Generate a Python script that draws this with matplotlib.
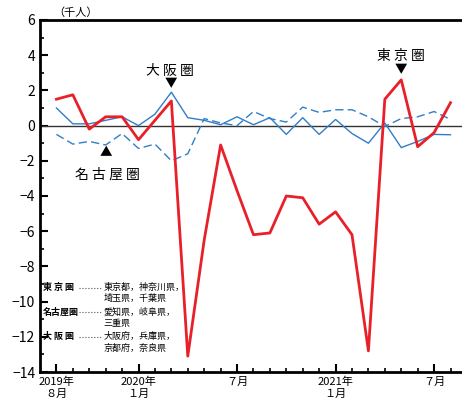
import matplotlib.pyplot as plt
import numpy as np

plt.rcParams['font.family'] = ['Noto Sans CJK JP', 'DejaVu Sans']

# 2019年8月〜2021年8月
tokyo = [1.5, 1.75, -0.2, 0.5, 0.5, -0.8, 0.3, 1.4, -13.1, -6.5, -1.1, -3.7, -6.2,
         -6.1, -4.0, -4.1, -5.6, -4.9, -6.2, -12.8, 1.5, 2.6, -1.2, -0.4, 1.3]
osaka = [1.0, 0.1, 0.1, 0.3, 0.5, 0.0, 0.65, 1.9, 0.45, 0.3, 0.05, 0.5, 0.05,
         0.45, -0.5, 0.45, -0.5, 0.35, -0.45, -1.0, 0.15, -1.25, -0.9, -0.5, -0.52]
nagoya = [-0.5, -1.05, -0.9, -1.1, -0.45, -1.3, -1.05, -2.0, -1.6, 0.4, 0.15, 0.0, 0.8,
          0.4, 0.2, 1.05, 0.75, 0.9, 0.9, 0.5, -0.05, 0.4, 0.5, 0.8, 0.35]
x = np.arange(len(tokyo))

fig = plt.figure(figsize=(4.62, 4.08), dpi=100)
ax = fig.add_axes([40/462, 36/408, 422/462, 352/408])

ax.axhline(0, color='#333333', lw=1.0)
ax.plot(x, nagoya, '--', color='#2f7fc8', lw=1.0, dashes=(6, 3))
ax.plot(x, osaka, '-', color='#2f7fc8', lw=1.0)
ax.plot(x, tokyo, '-', color='#e8202a', lw=2.0)

ax.set_xlim(-1, 24.7)
ax.set_ylim(-14, 6)
ax.set_yticks(np.arange(-14, 7, 2))
ax.set_yticklabels([str(v).replace('-', '−') for v in range(-14, 7, 2)], fontsize=10)
ax.set_yticks(np.arange(-14, 7, 1), minor=True)
ax.set_xticks([0, 5, 11, 17, 23])
ax.set_xticklabels(['2019年\n８月', '2020年\n１月', '７月', '2021年\n１月', '７月'], fontsize=8)
ax.set_xticks(x, minor=True)
ax.tick_params(axis='both', which='major', direction='in', length=6, width=1.5)
ax.tick_params(axis='both', which='minor', direction='in', length=3, width=1.2)
for s in ['left', 'bottom', 'top']:
    ax.spines[s].set_linewidth(2)
ax.spines['right'].set_visible(False)

ax.text(-0.2, 6.1, '（千人）', fontsize=8, va='bottom')
ax.text(6.9, 2.9, '大 阪 圏', fontsize=10, ha='center')
ax.text(7, 2.2, '▼', fontsize=9, ha='center')
ax.text(21, 3.75, '東 京 圏', fontsize=10, ha='center')
ax.text(21, 3.0, '▼', fontsize=9, ha='center')
ax.text(3, -1.75, '▲', fontsize=9, ha='center')
ax.text(3.1, -3.0, '名 古 屋 圏', fontsize=10, ha='center')

leg = [('東 京 圏', -9.2, '東京都，神奈川県，', '埼玉県，千葉県'),
       ('名古屋圏', -10.6, '愛知県，岐阜県，', '三重県'),
       ('大 阪 圏', -12.0, '大阪府，兵庫県，', '京都府，奈良県')]
for name, yy, l1, l2 in leg:
    ax.text(-0.8, yy, name, fontsize=6.5, fontweight='bold', va='center')
    ax.plot([1.35, 2.8], [yy, yy], ':', color='#555555', lw=0.8)
    ax.text(2.85, yy, l1, fontsize=6.5, va='center')
    ax.text(2.85, yy - 0.65, l2, fontsize=6.5, va='center')

plt.savefig('out.png', dpi=100)
